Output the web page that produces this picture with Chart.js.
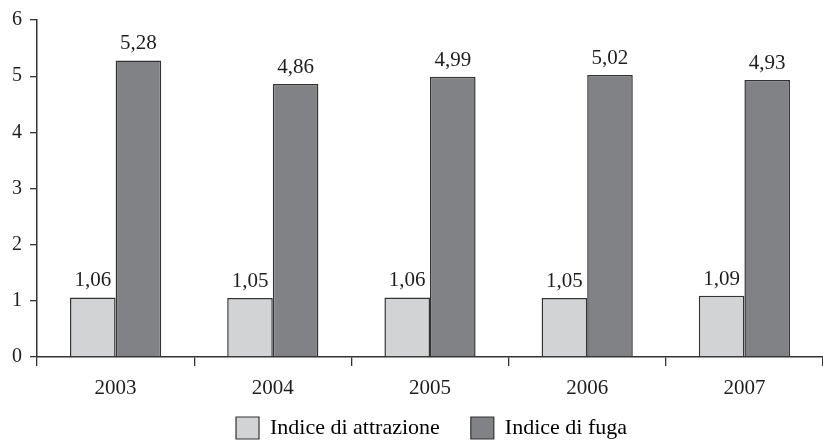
<!DOCTYPE html>
<html>
<head>
<meta charset="utf-8">
<script src="https://cdn.jsdelivr.net/npm/chart.js@4"></script>
<style>
  html, body { margin: 0; padding: 0; background: #fff; }
  #wrap { width: 823px; height: 440px; }
</style>
</head>
<body>
<div id="wrap"><canvas id="c" width="823" height="440"></canvas></div>
<script>
const years = ['2003', '2004', '2005', '2006', '2007'];
const attrazione = [1.06, 1.05, 1.06, 1.05, 1.09];
const fuga = [5.28, 4.86, 4.99, 5.02, 4.93];
const yTicks = [0, 1, 2, 3, 4, 5, 6];

const FONT = "'Liberation Serif', 'DejaVu Serif', serif";
const INK = '#333333';
const TEXT = '#1e1e1e';

// Writes each bar's value above it, with a decimal comma
const valueLabels = {
  id: 'valueLabels',
  afterDatasetsDraw(chart) {
    const ctx = chart.ctx;
    ctx.save();
    ctx.font = '21px ' + FONT;
    ctx.fillStyle = TEXT;
    ctx.textAlign = 'center';
    ctx.textBaseline = 'bottom';
    chart.data.datasets.forEach((ds, i) => {
      chart.getDatasetMeta(i).data.forEach((bar, j) => {
        const txt = ds.data[j].toFixed(2).replace('.', ',');
        ctx.fillText(txt, bar.x, bar.y - 6);
      });
    });
    ctx.restore();
  }
};

// Pulls the legend row a little closer to the year labels and centres it under the plot
const legendNudge = {
  id: 'legendNudge',
  afterLayout(chart) {
    const lg = chart.legend;
    if (!lg) return;
    lg.top -= 16; lg.bottom -= 16;
    lg.left += 20; lg.right += 20;
  }
};

new Chart(document.getElementById('c'), {
  type: 'bar',
  data: {
    labels: years,
    datasets: [
      {
        label: 'Indice di attrazione',
        data: attrazione,
        backgroundColor: '#d1d3d4',
        borderColor: INK,
        borderWidth: 1.5,
        borderSkipped: 'bottom'
      },
      {
        label: 'Indice di fuga',
        data: fuga,
        backgroundColor: '#808285',
        borderColor: INK,
        borderWidth: 1.5,
        borderSkipped: 'bottom'
      }
    ]
  },
  options: {
    responsive: false,
    animation: false,
    layout: { padding: { top: 10, right: 0, left: 0, bottom: -25 } },
    datasets: { bar: { barPercentage: 1.0, categoryPercentage: 0.58 } },
    scales: {
      x: {
        afterFit(axis) { axis.height = 45; },
        grid: {
          offset: true,
          drawOnChartArea: false,
          drawTicks: true,
          tickLength: 9,
          color: INK,
          lineWidth: 1.3
        },
        border: { color: INK, width: 1.5 },
        ticks: {
          color: TEXT,
          font: { family: FONT, size: 21 },
          padding: 10
        }
      },
      y: {
        min: 0,
        max: 6,
        afterBuildTicks(axis) { axis.ticks = yTicks.map(v => ({ value: v })); },
        afterFit(axis) { axis.width = 37; },
        grid: {
          drawOnChartArea: false,
          drawTicks: true,
          tickLength: 7,
          color: INK,
          lineWidth: 1.3
        },
        border: { color: INK, width: 1.5 },
        ticks: {
          color: TEXT,
          font: { family: FONT, size: 20 },
          padding: 8
        }
      }
    },
    plugins: {
      legend: {
        position: 'bottom',
        labels: {
          boxWidth: 23,
          boxHeight: 22,
          padding: 31,
          color: TEXT,
          font: { family: FONT, size: 22 },
          generateLabels(chart) {
            return chart.data.datasets.map((ds, i) => ({
              text: ds.label,
              fillStyle: ds.backgroundColor,
              strokeStyle: INK,
              lineWidth: 1.2,
              datasetIndex: i
            }));
          }
        }
      },
      tooltip: { enabled: false }
    }
  },
  plugins: [valueLabels, legendNudge]
});
</script>
</body>
</html>
